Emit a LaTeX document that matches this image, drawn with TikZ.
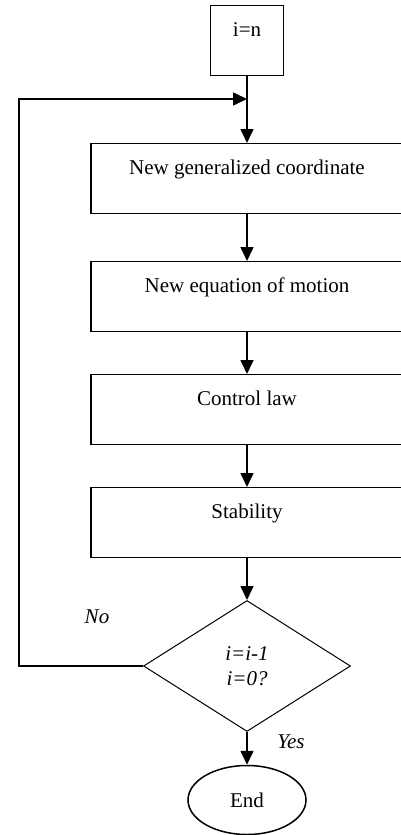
\documentclass[tikz,border=0pt]{standalone}
\usepackage{fontspec}
\setmainfont{Liberation Serif}
\usetikzlibrary{shapes.geometric,arrows.meta}

\begin{document}
\begin{tikzpicture}[x=1pt, y=-1pt,
    font=\fontsize{21}{24.5}\selectfont,
    block/.style={draw, line width=1.3pt, inner sep=0pt, anchor=north,
        text height=31pt, text depth=39pt},
    branch/.style={font=\fontsize{21}{24.5}\selectfont\itshape},
    flow/.style={line width=1.6pt, -{Triangle[length=14pt,width=13pt]}}]
    % Fix the page size
    \useasboundingbox (0,0) rectangle (401,835);

    % Start box
    \node[block, minimum width=73pt] (start) at (247,5) {i=n};

    % Process boxes (right side runs off the page)
    \foreach \name/\y/\txt in {gen/143/New generalized coordinate,
        eom/261/New equation of motion, ctrl/374/Control law, stab/487/Stability}
        \node[block, minimum width=312pt] (\name) at (247,\y) {\txt};

    % Decision
    \node[diamond, draw, line width=1pt, minimum width=207pt, minimum height=131pt,
        inner sep=2pt, align=center, branch] (check) at (247,666) {i=i-1\\i=0?};

    % End
    \node[ellipse, draw, line width=1.5pt, minimum width=118pt,
        minimum height=69pt] (stop) at (247,800) {End};

    % Arrows down the chart
    \foreach \a/\b in {start/gen, gen/eom, eom/ctrl, ctrl/stab, stab/check, check/stop}
        \draw[flow] (\a.south) -- (\b.north);

    % Loop back when i is not 0
    \coordinate (corner) at (19,99);
    \coordinate (join) at (247,99);
    \draw[flow] (check.west) -| (corner) -- (join);

    % Branch labels
    \node[branch] (no) at (97,617) {No};
    \node[branch] (yes) at (291,742) {Yes};
\end{tikzpicture}
\end{document}
